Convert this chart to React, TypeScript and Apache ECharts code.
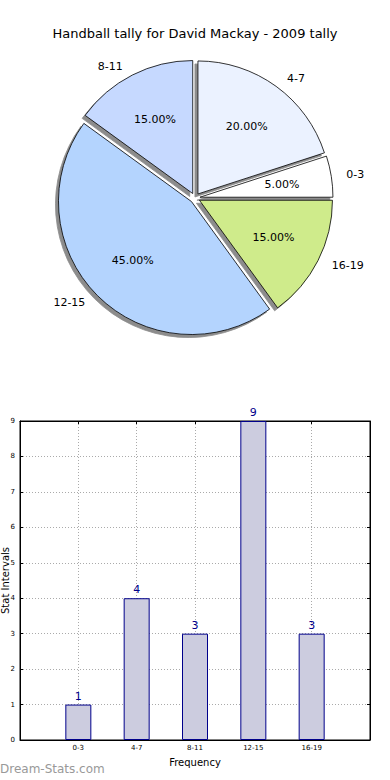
import React, { useEffect, useRef } from "react";
import * as echarts from "echarts";

const categories = ["0-3", "4-7", "8-11", "12-15", "16-19"];
const frequencies = [1, 4, 3, 9, 3];
const sliceColors = ["#ffffff", "#ebf2ff", "#c6d9ff", "#b4d4fe", "#cfeb8b"];
const yTicks = [0, 1, 2, 3, 4, 5, 6, 7, 8, 9];

const FONT = "DejaVu Sans";

export default function App() {
  const ref = useRef<HTMLDivElement>(null);
  useEffect(() => {
    if (!ref.current) return;
    const chart = echarts.init(ref.current, null, { renderer: "svg" });
    const pieData = categories.map((c, i) => ({
      name: c,
      value: frequencies[i],
      selected: true,
      itemStyle: { color: sliceColors[i] },
    }));
    const pieCommon = {
      type: "pie",
      center: [195, 198],
      clockwise: false,
      startAngle: 0,
      selectedMode: "multiple",
      selectedOffset: 5,
      avoidLabelOverlap: false,
      emphasis: { disabled: true },
      silent: true,
    };
    chart.setOption({
      animation: false,
      title: {
        text: "Handball tally for David Mackay - 2009 tally",
        left: "center",
        top: 22,
        textStyle: { fontFamily: FONT, fontSize: 13, fontWeight: "normal", color: "#000" },
      },
      grid: {
        left: 20,
        right: 20,
        top: 421,
        height: 319,
        outerBoundsMode: "none",
        containLabel: false,
        show: true,
        borderColor: "#000",
        borderWidth: 1,
        backgroundColor: "#fff",
      },
      xAxis: [
        {
          type: "value",
          min: -1,
          max: 5,
          interval: 1,
          name: "Frequency",
          nameLocation: "middle",
          nameGap: 17,
          nameMoveOverlap: false,
          nameTextStyle: { fontFamily: FONT, fontSize: 10, color: "#000" },
          axisLine: { show: true, onZero: false, lineStyle: { color: "#000" } },
          axisTick: { show: true, inside: true, length: 3, lineStyle: { color: "#000" } },
          axisLabel: {
            fontFamily: FONT,
            fontSize: 7,
            color: "#000",
            margin: 4,
            formatter: (v: number) => (categories[v] !== undefined ? categories[v] : ""),
          },
          splitLine: { show: true, lineStyle: { color: "#aaa", type: [1, 2] } },
        },
        {
          type: "value",
          position: "top",
          min: -1,
          max: 5,
          interval: 1,
          axisLine: { show: true, onZero: false, lineStyle: { color: "#000" } },
          axisTick: { show: true, inside: true, length: 3, lineStyle: { color: "#000" } },
          axisLabel: { show: false },
          splitLine: { show: false },
        },
      ],
      yAxis: [
        {
          type: "value",
          min: yTicks[0],
          max: yTicks[yTicks.length - 1],
          interval: 1,
          name: "Stat Intervals",
          nameLocation: "middle",
          nameRotate: 90,
          nameGap: 10,
          nameMoveOverlap: false,
          nameTextStyle: { fontFamily: FONT, fontSize: 10, color: "#000" },
          axisLine: { show: true, onZero: false, lineStyle: { color: "#000" } },
          axisTick: { show: true, inside: true, length: 3, lineStyle: { color: "#000" } },
          axisLabel: { fontFamily: FONT, fontSize: 7, color: "#000", margin: 5 },
          splitLine: { show: true, lineStyle: { color: "#aaa", type: [1, 2] } },
        },
        {
          type: "value",
          position: "right",
          min: yTicks[0],
          max: yTicks[yTicks.length - 1],
          interval: 1,
          axisLine: { show: true, onZero: false, lineStyle: { color: "#000" } },
          axisTick: { show: true, inside: true, length: 3, lineStyle: { color: "#000" } },
          axisLabel: { show: false },
          splitLine: { show: false },
        },
      ],
      series: [
        {
          ...pieCommon,
          radius: [0, 133],
          data: pieData,
          itemStyle: {
            borderColor: "#000",
            borderWidth: 0.8,
            shadowColor: "rgba(0,0,0,0.45)",
            shadowBlur: 1,
            shadowOffsetX: -3,
            shadowOffsetY: 3,
          },
          label: {
            show: true,
            position: "outside",
            fontFamily: FONT,
            fontSize: 11,
            color: "#000",
            formatter: "{b}",
          },
          labelLine: { show: false, length: 10, length2: 0 },
        },
        {
          ...pieCommon,
          radius: [27, 133],
          data: categories.map((c, i) => ({ name: c, value: frequencies[i], selected: true })),
          itemStyle: { color: "rgba(0,0,0,0)", borderWidth: 0 },
          label: {
            show: true,
            position: "inside",
            fontFamily: FONT,
            fontSize: 11,
            color: "#000",
            formatter: (p: any) => `${p.percent.toFixed(2)}%`,
          },
          labelLine: { show: false },
        },
        {
          type: "bar",
          xAxisIndex: 0,
          yAxisIndex: 0,
          data: frequencies.map((v, i) => [i, v]),
          barWidth: 26,
          itemStyle: { color: "#ccccdf", borderColor: "#00008b", borderWidth: 1 },
          label: {
            show: true,
            position: "top",
            distance: 3,
            fontFamily: FONT,
            fontSize: 11,
            color: "#00008b",
          },
          silent: true,
        },
      ],
      graphic: [
        {
          type: "text",
          left: 0,
          top: 763,
          style: { text: "Dream-Stats.com", fontFamily: FONT, fontSize: 12, fill: "#999" },
        },
      ],
    });
    return () => chart.dispose();
  }, []);
  return (
    <div
      ref={ref}
      style={{ position: "absolute", left: 0, top: 0, width: 390, height: 780, background: "#fff" }}
    />
  );
}
